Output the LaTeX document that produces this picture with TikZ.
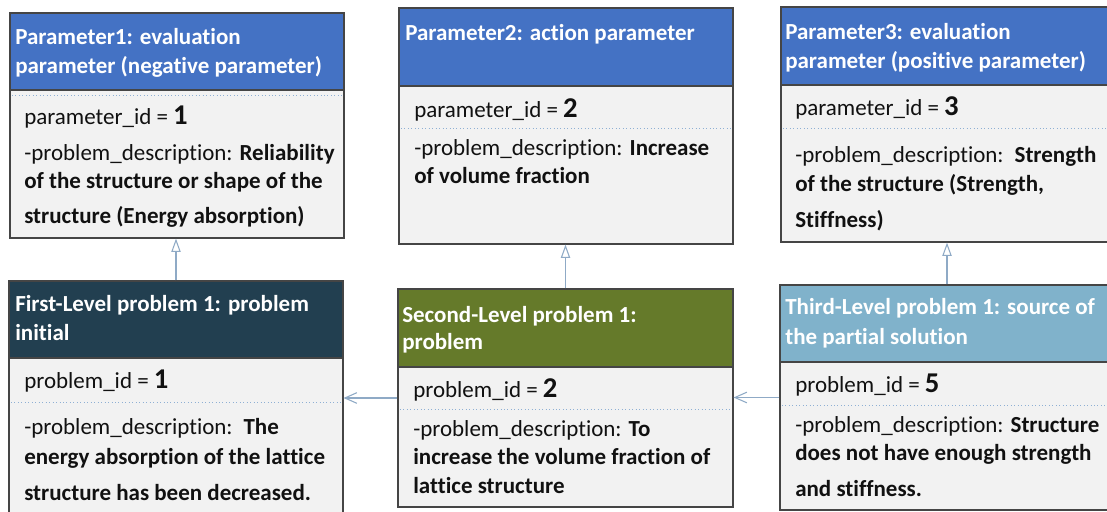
\documentclass[tikz,border=0pt]{standalone}
\usepackage{fontspec}
\setmainfont{Carlito}[Ligatures={NoCommon}]
\usetikzlibrary{arrows.meta,fit}
\definecolor{hblue}{HTML}{4472C4}
\definecolor{hdark}{HTML}{223F50}
\definecolor{holive}{HTML}{657A2A}
\definecolor{hlight}{HTML}{80B2CB}
\definecolor{bodyfill}{HTML}{F2F2F2}
\definecolor{edge}{HTML}{454545}
\definecolor{conn}{HTML}{8FAAC6}
\definecolor{dotc}{HTML}{8FB0D4}
\definecolor{ink}{HTML}{111111}
\newcommand\idnum[1]{{\fontsize{21.5}{24}\selectfont\bfseries #1}}
\begin{document}
\begin{tikzpicture}[x=0.75pt,y=-0.75pt,
  boxbody/.style={inner sep=0pt, draw=edge, fill=bodyfill, line width=0.9pt},
  boxhead/.style={inner sep=0pt, draw=edge, line width=0.9pt},
  dotline/.style={draw=dotc, line width=0.6pt, dotted},
  hd/.style={anchor=base west, inner sep=0pt, text=white, font=\fontsize{17.25}{20}\selectfont\bfseries},
  tx/.style={anchor=base west, inner sep=0pt, text=ink, font=\fontsize{17.25}{20}\selectfont},
  inh/.style={draw=conn, line width=0.8pt, -{Triangle[open, length=10pt, width=7pt]}},
  assoc/.style={draw=conn, line width=0.8pt, -{Straight Barb[length=9pt, width=8pt]}}
]
\useasboundingbox (0,0) rectangle (1107,511);
\clip (0,0) rectangle (1107,511);
\fill[white] (0,0) rectangle (1107,511);

% ---------- Parameter 1 ----------
\node[boxbody, fit={(10,13) (344,238)}] (p1) {};
\node[boxhead, fill=hblue, fit={(10,13) (344,90)}] (p1h) {};
\draw[dotline] (12,95) -- (342,95);
\node[hd] (p1a) at (15,44) {Parameter1: evaluation};
\node[hd] (p1b) at (15,73) {parameter (negative parameter)};
\node[tx] (p1c) at (24,124) {parameter\_id = \idnum{1}};
\node[tx] (p1d) at (24,160) {-problem\_description: \textbf{Reliability}};
\node[tx] (p1e) at (24,188) {\textbf{of the structure or shape of the}};
\node[tx] (p1f) at (24,223) {\textbf{structure (Energy absorption)}};

% ---------- Parameter 2 ----------
\node[boxbody, fit={(399,8) (733,244)}] (p2) {};
\node[boxhead, fill=hblue, fit={(399,8) (733,86)}] (p2h) {};
\draw[dotline] (401,128) -- (731,128);
\node[hd] (p2a) at (405,40) {Parameter2: action parameter};
\node[tx] (p2c) at (414,117) {parameter\_id = \idnum{2}};
\node[tx] (p2d) at (414,155) {-problem\_description: \textbf{Increase}};
\node[tx] (p2e) at (414,183) {\textbf{of volume fraction}};

% ---------- Parameter 3 ----------
\node[boxbody, fit={(781,7) (1115,242)}] (p3) {};
\node[boxhead, fill=hblue, fit={(781,7) (1115,85)}] (p3h) {};
\draw[dotline] (783,128) -- (1113,128);
\node[hd] (p3a) at (785,39) {Parameter3: evaluation};
\node[hd] (p3b) at (785,68) {parameter (positive parameter)};
\node[tx] (p3c) at (795,115) {parameter\_id = \idnum{3}};
\node[tx] (p3d) at (795,162) {-problem\_description:\hspace{3pt} \textbf{Strength}};
\node[tx] (p3e) at (795,191) {\textbf{of the structure (Strength,}};
\node[tx] (p3f) at (795,227) {\textbf{Stiffness)}};

% ---------- First-Level problem ----------
\node[boxbody, fit={(9,281) (343,522)}] (f1) {};
\node[boxhead, fill=hdark, fit={(9,281) (343,358)}] (f1h) {};
\draw[dotline] (11,402) -- (341,402);
\node[hd] (f1a) at (15,311) {First-Level problem 1: problem};
\node[hd] (f1b) at (15,340) {initial};
\node[tx] (f1c) at (24,388) {problem\_id = \idnum{1}};
\node[tx] (f1d) at (24,434) {-problem\_description:\hspace{3pt} \textbf{The}};
\node[tx] (f1e) at (24,464) {\textbf{energy absorption of the lattice}};
\node[tx] (f1f) at (24,500) {\textbf{structure has been decreased.}};

% ---------- Second-Level problem ----------
\node[boxbody, fit={(398,289) (733,507)}] (s2) {};
\node[boxhead, fill=holive, fit={(398,289) (733,367)}] (s2h) {};
\draw[dotline] (400,409) -- (731,409);
\node[hd] (s2a) at (402,322) {Second-Level problem 1:};
\node[hd] (s2b) at (402,349) {problem};
\node[tx] (s2c) at (413,397) {problem\_id = \idnum{2}};
\node[tx] (s2d) at (413,436) {-problem\_description: \textbf{To}};
\node[tx] (s2e) at (413,464) {\textbf{increase the volume fraction of}};
\node[tx] (s2f) at (413,493) {\textbf{lattice structure}};

% ---------- Third-Level problem ----------
\node[boxbody, fit={(780,285) (1114,510)}] (t3) {};
\node[boxhead, fill=hlight, fit={(780,285) (1114,362)}] (t3h) {};
\draw[dotline] (782,405) -- (1112,405);
\node[hd] (t3a) at (785,314) {Third-Level problem 1: source of};
\node[hd] (t3b) at (785,344) {the partial solution};
\node[tx] (t3c) at (795,392) {problem\_id = \idnum{5}};
\node[tx] (t3d) at (795,432) {-problem\_description: \textbf{Structure}};
\node[tx] (t3e) at (795,460) {\textbf{does not have enough strength}};
\node[tx] (t3f) at (795,496) {\textbf{and stiffness.}};

% ---------- connectors ----------
\draw[inh] (f1.north) -- (f1.north |- p1.south);
\draw[inh] (s2.north) -- (s2.north |- p2.south);
\draw[inh] (t3.north) -- (t3.north |- p3.south);
\draw[assoc] (s2.west) -- (s2.west -| f1.east);
\draw[assoc] (t3.west) -- (t3.west -| s2.east);
\end{tikzpicture}
\end{document}
